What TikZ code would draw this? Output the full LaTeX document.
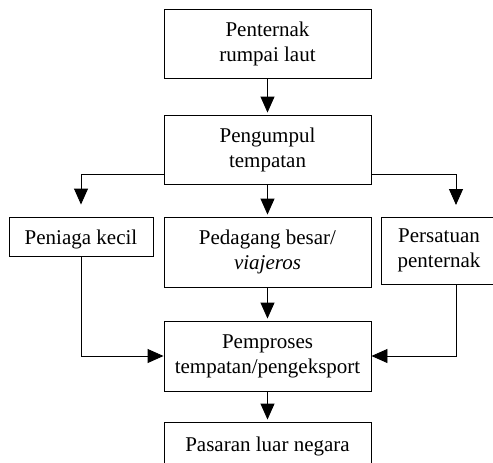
\documentclass[tikz,border=0pt]{standalone}
\usepackage{fontspec}
\setmainfont{Liberation Serif}
\usetikzlibrary{arrows.meta, positioning, calc}

\begin{document}
\begin{tikzpicture}[
  x=1pt, y=-1pt,
  >={Triangle[length=16pt,width=14pt]},
  box/.style={draw, line width=0.9pt, inner sep=0pt, align=center, font=\fontsize{21}{25}\selectfont,
    execute at begin node={\rule{0pt}{20pt}}},
  wide/.style={box, minimum width=207pt, minimum height=69pt},
  flow/.style={->, line width=0.9pt, shorten >=2pt}
  ]
  \useasboundingbox (0,0) rectangle (493,463);
  \clip (0,0) rectangle (493,463);
  % boxes
  \node[wide] (farmer) at (267.5,43.5) {Penternak\\rumpai laut};
  \node[wide] (collector) at (267.5,149.5) {Pengumpul\\tempatan};
  \node[box, minimum width=144pt, minimum height=39pt] (small) at (81,236.5) {Peniaga kecil};
  \node[wide, minimum height=70pt] (trader) at (267.5,252) {Pedagang besar/\\\textit{viajeros}};
  \node[box, minimum width=116pt, minimum height=67pt] (union) at (439,250.5) {Persatuan\\penternak};
  \node[wide, minimum height=70pt] (processor) at (267.5,356) {Pemproses\\tempatan/pengeksport};
  \node[wide, minimum height=43pt] (market) at (267.5,443.5) {Pasaran luar negara};
  \coordinate (split) at ($(collector.south)+(0,-10)$);
  \coordinate (uin) at (456,217);
  % arrows
  \draw[flow] (farmer) -- (collector);
  \draw[flow] (collector) -- (trader);
  \draw[flow, shorten >=12pt] (collector.west |- split) -| (small.north);
  \draw[flow, shorten >=12pt] (collector.east |- split) -| (uin);
  \draw[flow, shorten >=0pt] (small.south) |- (processor.west);
  \draw[flow, shorten >=0pt] (union.south -| uin) |- (processor.east);
  \draw[flow] (trader) -- (processor);
  \draw[flow] (processor) -- (market);
\end{tikzpicture}
\end{document}
